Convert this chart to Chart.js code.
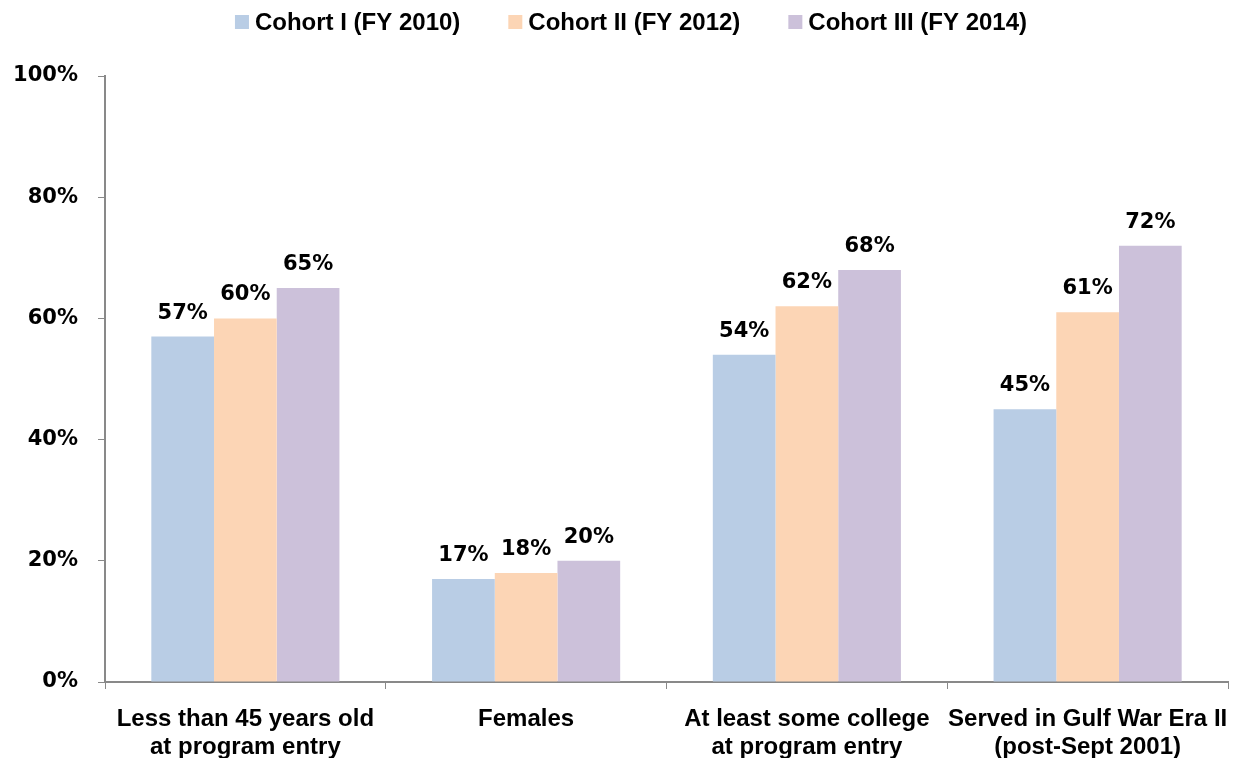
<!DOCTYPE html>
<html>
<head>
<meta charset="utf-8">
<script src="https://cdn.jsdelivr.net/npm/chart.js@4"></script>
<style>
  html, body { margin: 0; padding: 0; background: #fff; }
  #wrap { width: 1234px; height: 758px; }
</style>
</head>
<body>
<div id="wrap"><canvas id="chart" width="1234" height="758"></canvas></div>
<script>
// data
let categories = [
    ["Less than 45 years old", "at program entry"],
    "Females",
    ["At least some college", "at program entry"],
    ["Served in Gulf War Era II", "(post-Sept 2001)"]
];
let cohort1 = [57, 17, 54, 45];
let cohort2 = [60, 18, 62, 61];
let cohort3 = [65, 20, 68, 72];
let seriesNames = ["Cohort I (FY 2010)", "Cohort II (FY 2012)", "Cohort III (FY 2014)"];
let seriesColors = ["#b9cde5", "#fcd5b5", "#ccc1da"];
let yTicks = [0, 20, 40, 60, 80, 100];

const narrow = "'Liberation Sans Narrow', 'Arial Narrow', sans-serif";
const wide = "'DejaVu Sans', Verdana, sans-serif";
const axisGray = "#898989";

// draws the % value above each bar
const valueLabels = {
    id: "valueLabels",
    afterDatasetsDraw(chart) {
        const ctx = chart.ctx;
        ctx.save();
        ctx.font = "bold 21px " + wide;
        ctx.fillStyle = "#000";
        ctx.textAlign = "center";
        ctx.textBaseline = "bottom";
        chart.data.datasets.forEach((ds, i) => {
            chart.getDatasetMeta(i).data.forEach((bar, j) => {
                ctx.fillText(ds.data[j] + "%", bar.x, bar.y - 13);
            });
        });
        ctx.restore();
    }
};

// legend row at the top, drawn by hand so the spacing can be set
const topLegend = {
    id: "topLegend",
    afterDraw(chart) {
        const ctx = chart.ctx;
        ctx.save();
        ctx.font = "bold 24px " + narrow;
        ctx.textBaseline = "middle";
        const box = 14, gap = 6, spacing = 48;
        let widths = seriesNames.map(n => box + gap + ctx.measureText(n).width);
        let total = widths.reduce((a, b) => a + b, 0) + spacing * (widths.length - 1);
        let x = 631 - total / 2;
        const y = 22;
        seriesNames.forEach((name, i) => {
            ctx.fillStyle = seriesColors[i];
            ctx.fillRect(x, y - box / 2, box, box);
            ctx.fillStyle = "#000";
            ctx.fillText(name, x + box + gap, y + 1);
            x += widths[i] + spacing;
        });
        ctx.restore();
    }
};

const ctx = document.getElementById("chart").getContext("2d");
const chart = new Chart(ctx, {
    type: "bar",
    data: {
        labels: categories,
        datasets: [
            { label: seriesNames[0], data: cohort1, backgroundColor: seriesColors[0] },
            { label: seriesNames[1], data: cohort2, backgroundColor: seriesColors[1] },
            { label: seriesNames[2], data: cohort3, backgroundColor: seriesColors[2] }
        ]
    },
    options: {
        responsive: false,
        animation: false,
        devicePixelRatio: 1,
        layout: { padding: { left: 0, right: 6, top: 76, bottom: 0 } },
        datasets: {
            bar: { categoryPercentage: 0.67, barPercentage: 1.0, borderWidth: 0 }
        },
        plugins: {
            legend: { display: false },
            tooltip: { enabled: false }
        },
        scales: {
            x: {
                afterFit(scale) {
                    scale.height = 76;
                    scale.paddingLeft = 0;
                    scale.paddingRight = 0;
                },
                grid: {
                    offset: true,
                    drawOnChartArea: false,
                    drawTicks: true,
                    tickLength: 7,
                    color: axisGray
                },
                border: { color: axisGray, width: 2 },
                ticks: {
                    color: "#000",
                    padding: 16,
                    autoSkip: false,
                    maxRotation: 0,
                    font: { family: narrow, size: 24, weight: "bold", lineHeight: 1.17 }
                }
            },
            y: {
                min: 0,
                max: 100,
                afterFit(scale) { scale.width = 105; },
                afterBuildTicks(scale) { scale.ticks = yTicks.map(v => ({ value: v })); },
                grid: {
                    drawOnChartArea: false,
                    drawTicks: true,
                    tickLength: 7,
                    color: axisGray
                },
                border: { color: axisGray, width: 2 },
                ticks: {
                    color: "#000",
                    padding: 20,
                    font: { family: wide, size: 21, weight: "bold" },
                    callback: v => v + "%"
                }
            }
        }
    },
    plugins: [valueLabels, topLegend]
});
</script>
</body>
</html>
